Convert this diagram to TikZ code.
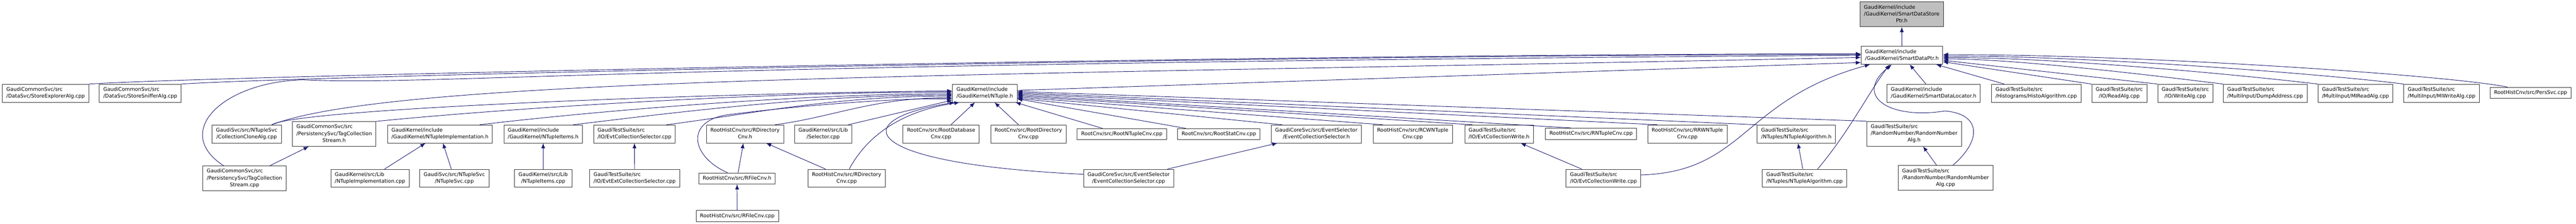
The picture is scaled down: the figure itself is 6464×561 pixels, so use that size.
\documentclass[tikz,border=0pt]{standalone}
\usepackage{fontspec}
\setmainfont{DejaVu Sans}
\usetikzlibrary{arrows.meta}
\definecolor{midnightblue}{RGB}{25,25,112}
\definecolor{nodegray}{RGB}{191,191,191}
\newcommand{\fname}[1]{\begin{tabular}{@{}l@{}}#1\end{tabular}}
\newcommand{\lastc}[1]{\multicolumn{1}{@{}c@{}}{#1}}

\begin{document}
\begin{tikzpicture}[x=1pt, y=-1pt, >={Latex[length=13pt,width=10pt]}]
\tikzset{
file/.style     = {draw=black!80, line width=1pt, shape=rectangle, fill=white, inner xsep=10pt, inner ysep=5.5pt, font=\fontsize{12.8}{17}\selectfont},
rootfile/.style = {file, fill=nodegray},
dep/.style      = {->, draw=midnightblue, line width=1.2pt},
}
    \useasboundingbox (0,0) rectangle (6464,561);

    % Top nodes
    \node [rootfile] (storeptr)  at (4772,36)      {\fname{GaudiKernel/include\\/GaudiKernel/SmartDataStore\\\lastc{Ptr.h}}};
    \node [file]     (sdp)       at (4772.5,138.5) {\fname{GaudiKernel/include\\\lastc{/GaudiKernel/SmartDataPtr.h}}};

    % Third row
    \node [file] (explorer)  at (114.5,233.5)  {\fname{GaudiCommonSvc/src\\\lastc{/DataSvc/StoreExplorerAlg.cpp}}};
    \node [file] (sniffer)   at (352,233.5)    {\fname{GaudiCommonSvc/src\\\lastc{/DataSvc/StoreSnifferAlg.cpp}}};
    \node [file] (ntuple)    at (2471,233.5)   {\fname{GaudiKernel/include\\\lastc{/GaudiKernel/NTuple.h}}};
    \node [file] (locator)   at (4852,233.5)   {\fname{GaudiKernel/include\\\lastc{/GaudiKernel/SmartDataLocator.h}}};
    \node [file] (histo)     at (5109.5,233.5) {\fname{GaudiTestSuite/src\\\lastc{/Histograms/HistoAlgorithm.cpp}}};
    \node [file] (readalg)   at (5318,233.5)   {\fname{GaudiTestSuite/src\\\lastc{/IO/ReadAlg.cpp}}};
    \node [file] (writealg)  at (5483.5,233.5) {\fname{GaudiTestSuite/src\\\lastc{/IO/WriteAlg.cpp}}};
    \node [file] (dumpaddr)  at (5684,233.5)   {\fname{GaudiTestSuite/src\\\lastc{/MultiInput/DumpAddress.cpp}}};
    \node [file] (miread)    at (5910.5,233.5) {\fname{GaudiTestSuite/src\\\lastc{/MultiInput/MIReadAlg.cpp}}};
    \node [file] (miwrite)   at (6126.5,233.5) {\fname{GaudiTestSuite/src\\\lastc{/MultiInput/MIWriteAlg.cpp}}};
    \node [file] (perssvc)   at (6350,232.5)   {\fname{RootHistCnv/src/PersSvc.cpp}};

    % Fourth row
    \node [file] (cloneAlg)   at (619,335.5)    {\fname{GaudiSvc/src/NTupleSvc\\\lastc{/CollectionCloneAlg.cpp}}};
    \node [file] (tcsh)       at (838.5,335.5)  {\fname{GaudiCommonSvc/src\\/PersistencySvc/TagCollection\\\lastc{Stream.h}}};
    \node [file] (ntimplh)    at (1104,335.5)   {\fname{GaudiKernel/include\\\lastc{/GaudiKernel/NTupleImplementation.h}}};
    \node [file] (ntitemsh)   at (1363,335.5)   {\fname{GaudiKernel/include\\\lastc{/GaudiKernel/NTupleItems.h}}};
    \node [file] (evtcollsel) at (1592,335.5)   {\fname{GaudiTestSuite/src\\\lastc{/IO/EvtCollectionSelector.cpp}}};
    \node [file] (rdircnvh)   at (1869.5,335.5) {\fname{RootHistCnv/src/RDirectory\\\lastc{Cnv.h}}};
    \node [file] (selector)   at (2065.5,335.5) {\fname{GaudiKernel/src/Lib\\\lastc{/Selector.cpp}}};
    \node [file] (rootdb)     at (2361.5,335.5) {\fname{RootCnv/src/RootDatabase\\\lastc{Cnv.cpp}}};
    \node [file] (rootdir)    at (2580.5,335.5) {\fname{RootCnv/src/RootDirectory\\\lastc{Cnv.cpp}}};
    \node [file] (rootntup)   at (2815,336)     {\fname{RootCnv/src/RootNTupleCnv.cpp}};
    \node [file] (rootstat)   at (3058.5,336)   {\fname{RootCnv/src/RootStatCnv.cpp}};
    \node [file] (ecsh)       at (3303,335.5)   {\fname{GaudiCoreSvc/src/EventSelector\\\lastc{/EventCollectionSelector.h}}};
    \node [file] (rcwn)       at (3545,335.5)   {\fname{RootHistCnv/src/RCWNTuple\\\lastc{Cnv.cpp}}};
    \node [file] (ecwh)       at (3761.5,335.5) {\fname{GaudiTestSuite/src\\\lastc{/IO/EvtCollectionWrite.h}}};
    \node [file] (rntup)      at (3992.5,335)   {\fname{RootHistCnv/src/RNTupleCnv.cpp}};
    \node [file] (rrwn)       at (4234,335.5)   {\fname{RootHistCnv/src/RRWNTuple\\\lastc{Cnv.cpp}}};
    \node [file] (ntalgh)     at (4507.5,335.5) {\fname{GaudiTestSuite/src\\\lastc{/NTuples/NTupleAlgorithm.h}}};
    \node [file] (rndalgh)    at (4803,335)     {\fname{GaudiTestSuite/src\\/RandomNumber/RandomNumber\\\lastc{Alg.h}}};

    % Fifth and sixth rows
    \node [file] (tcscpp)      at (613.5,446.5)  {\fname{GaudiCommonSvc/src\\/PersistencySvc/TagCollection\\\lastc{Stream.cpp}}};
    \node [file] (ntimplcpp)   at (928.5,446.5)  {\fname{GaudiKernel/src/Lib\\\lastc{/NTupleImplementation.cpp}}};
    \node [file] (ntsvc)       at (1140,446.5)   {\fname{GaudiSvc/src/NTupleSvc\\\lastc{/NTupleSvc.cpp}}};
    \node [file] (ntitemscpp)  at (1363,446.5)   {\fname{GaudiKernel/src/Lib\\\lastc{/NTupleItems.cpp}}};
    \node [file] (evtextsel)   at (1592.5,446.5) {\fname{GaudiTestSuite/src\\\lastc{/IO/EvtExtCollectionSelector.cpp}}};
    \node [file] (rfilecnvh)   at (1849.5,447)   {\fname{RootHistCnv/src/RFileCnv.h}};
    \node [file] (rdircnvcpp)  at (2124.5,446.5) {\fname{RootHistCnv/src/RDirectory\\\lastc{Cnv.cpp}}};
    \node [file] (ecscpp)      at (2832,446.5)   {\fname{GaudiCoreSvc/src/EventSelector\\\lastc{/EventCollectionSelector.cpp}}};
    \node [file] (ecwcpp)      at (4023.5,446.5) {\fname{GaudiTestSuite/src\\\lastc{/IO/EvtCollectionWrite.cpp}}};
    \node [file] (ntalgcpp)    at (4528,446.5)   {\fname{GaudiTestSuite/src\\\lastc{/NTuples/NTupleAlgorithm.cpp}}};
    \node [file] (rndalgcpp)   at (4882,445.5)   {\fname{GaudiTestSuite/src\\/RandomNumber/RandomNumber\\\lastc{Alg.cpp}}};
    \node [file] (rfilecnvcpp) at (1850,541)     {\fname{RootHistCnv/src/RFileCnv.cpp}};

    % Edges into SmartDataStorePtr.h and SmartDataPtr.h
    \draw [dep] (sdp) -- (storeptr);
    \draw [dep] (explorer.north east) .. controls +(300,-20) and +(-1500,0) .. (sdp.178);
    \draw [dep] (sniffer.north east) .. controls +(300,-20) and +(-1500,0) .. (sdp.179);
    \draw [dep] (tcscpp.149) .. controls (430,330) and (560,205) .. (760,200) .. controls (1100,215) and (1500,160) .. (sdp.180);
    \draw [dep] (cloneAlg.20) .. controls (1000,190) and (2500,190) .. (sdp.183);
    \draw [dep] (ntuple.5) -- (sdp.190);
    \draw [dep] (ecwcpp.5) .. controls (4380,430) and (4370,250) .. (sdp.196);
    \draw [dep] (ntalgcpp.35) .. controls (4640,330) and (4690,230) .. (sdp.217);
    \draw [dep] (rndalgcpp.60) .. controls (4975,350) and (4970,285) .. (4880,278) .. controls (4740,300) and (4650,240) .. (sdp.222);
    \draw [dep] (locator) -- (sdp);
    \draw [dep] (histo.164) -- (sdp.-15);
    \draw [dep] (readalg.north west) -- (sdp.-9);
    \draw [dep] (writealg.north west) -- (sdp.-7);
    \draw [dep] (dumpaddr.north west) .. controls +(-100,-12) and +(200,0) .. (sdp.-5);
    \draw [dep] (miread.north west) .. controls +(-150,-18) and +(300,0) .. (sdp.-3);
    \draw [dep] (miwrite.north west) .. controls +(-150,-20) and +(400,0) .. (sdp.-1);
    \draw [dep] (perssvc.166) .. controls +(-150,-30) and +(500,0) .. (sdp.1);

    % Edges into NTuple.h
    \draw [dep] (cloneAlg.20) .. controls +(60,-40) and +(-600,5) .. (ntuple.176);
    \draw [dep] (tcsh.north east) .. controls +(300,-30) and +(-500,0) .. (ntuple.178);
    \draw [dep] (ntimplh.13) .. controls +(250,-30) and +(-400,0) .. (ntuple.181);
    \draw [dep] (ntitemsh.17) .. controls +(250,-30) and +(-350,0) .. (ntuple.183);
    \draw [dep] (evtcollsel.16) .. controls +(200,-25) and +(-300,0) .. (ntuple.185);
    \draw [dep] (rdircnvh.17) .. controls +(150,-20) and +(-200,0) .. (ntuple.188);
    \draw [dep] (selector.20) -- (ntuple.192);
    \draw [dep] (rfilecnvh.149) .. controls (1730,390) and (1720,300) .. (1830,287) .. controls (2000,265) and (2250,245) .. (ntuple.190);
    \draw [dep] (rdircnvcpp.74) .. controls (2170,350) and (2250,280) .. (ntuple.200);
    \draw [dep] (ecscpp.175) .. controls (2150,410) and (2120,300) .. (ntuple.197);
    \draw [dep] (rootdb) -- (ntuple);
    \draw [dep] (rootdir) -- (ntuple);
    \draw [dep] (rootntup) -- (ntuple);
    \draw [dep] (rootstat) -- (ntuple);
    \draw [dep] (ecsh.165) -- (ntuple.-9);
    \draw [dep] (rcwn.163) -- (ntuple.-7);
    \draw [dep] (ecwh.161) -- (ntuple.-5);
    \draw [dep] (rntup.164) -- (ntuple.-3);
    \draw [dep] (rrwn.163) -- (ntuple.-1);
    \draw [dep] (ntalgh.north west) -- (ntuple.1);
    \draw [dep] (rndalgh.north west) -- (ntuple.3);

    % Short edges
    \draw [dep] (tcscpp) -- (tcsh);
    \draw [dep] (ntimplcpp) -- (ntimplh);
    \draw [dep] (ntsvc) -- (ntimplh);
    \draw [dep] (ntitemscpp) -- (ntitemsh);
    \draw [dep] (evtextsel) -- (evtcollsel);
    \draw [dep] (rfilecnvcpp) -- (rfilecnvh);
    \draw [dep] (rfilecnvh) -- (rdircnvh);
    \draw [dep] (rdircnvcpp) -- (rdircnvh);
    \draw [dep] (ecscpp) -- (ecsh);
    \draw [dep] (ecwcpp) -- (ecwh);
    \draw [dep] (ntalgcpp) -- (ntalgh);
    \draw [dep] (rndalgcpp) -- (rndalgh);

\end{tikzpicture}
\end{document}
